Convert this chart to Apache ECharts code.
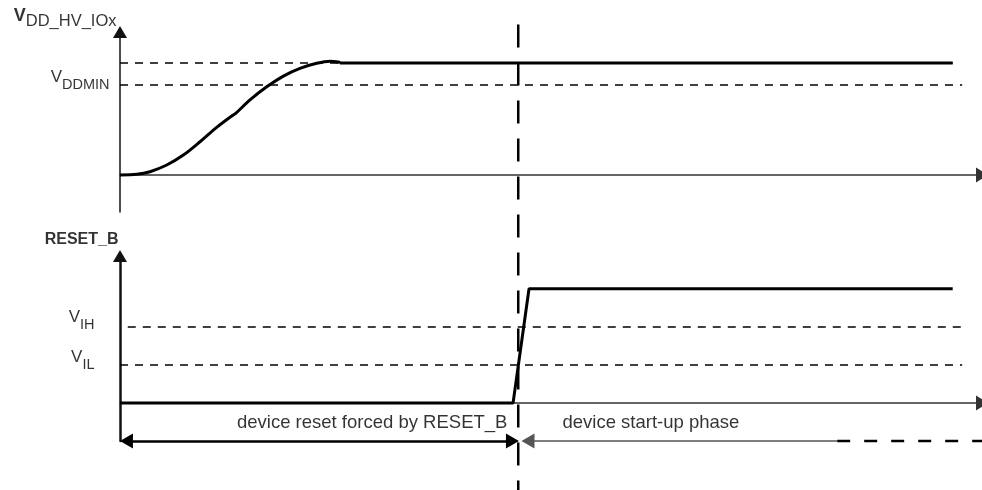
<!DOCTYPE html>
<html><head><meta charset="utf-8">
<script src="https://cdn.jsdelivr.net/npm/echarts@6/dist/echarts.min.js"></script>
<style>html,body{margin:0;padding:0;background:#fff}#c{width:982px;height:490px}</style>
</head><body><div id="c"></div>
<script>
// ---- data (time in arbitrary units, levels in arbitrary volts) ----
const vddTime  = [0, 0.194, 0.348, 0.542, 0.735, 0.928, 1.122, 1.296, 1.334, 1.508, 1.702, 1.895, 2.088, 2.282, 2.436, 2.533, 2.552];
const vddLevel = [0, 0.023, 0.111, 0.336, 0.671, 1.117, 1.60, 1.98, 2.05, 2.52, 2.96, 3.32, 3.58, 3.75, 3.82, 3.79, 3.76];
const vddHoldTime = [2.552, 9.66];
const resetTime  = [0, 4.56, 4.745, 9.66];
const resetLevel = [0, 0, 3.73, 3.73];
const vddHighLevel = 3.76;
const vddMinLevel = 3.02;
const vihLevel = 2.48;
const vilLevel = 1.24;
const releaseTime = 4.62;
const spanLevel = -1.24;
const highDashEnd = 9.66;
const levelDashEnd = 9.77;
const vihDashStart = 0.09;
const resetSpan = [0.075, 4.553];
const startupSpan = [4.733, 8.32];
const startupTailEnd = 10;
const textLevel = -0.64;
const resetTextEnd = 4.50;
const startupTextStart = 5.127;
const topLabelLevel = 5.25;
const resetLabelLevel = 5.34;
const labels = {
  vdd: ['V', 'DD_HV_IOx'],
  vddmin: ['V', 'DDMIN'],
  vih: ['V', 'IH'],
  vil: ['V', 'IL'],
  reset: 'RESET_B',
  resetPhase: 'device reset forced by RESET_B',
  startPhase: 'device start-up phase'
};

const FONT = "'Liberation Sans', Arial, Helvetica, sans-serif";
const zip = (a, b) => a.map((v, i) => [v, b[i]]);

function axisX(show, gi) {
  return {
    type: 'value', min: 0, max: 10, gridIndex: gi, show: show,
    axisLine: { show: true, onZero: true, symbol: ['none', 'triangle'], symbolSize: [15, 12],
      lineStyle: { color: '#333', width: 1.5 } },
    axisTick: { show: false }, axisLabel: { show: false }, splitLine: { show: false }
  };
}
function axisY(width, gi) {
  return {
    type: 'value', min: spanLevel, max: 4.8, gridIndex: gi,
    axisLine: { show: true, onZero: true, symbol: ['none', 'triangle'], symbolSize: [14, 12],
      lineStyle: { color: '#111', width: width } },
    axisTick: { show: false }, axisLabel: { show: false }, splitLine: { show: false }
  };
}
function line(xi, data, style, z, extra) {
  return Object.assign({ type: 'line', xAxisIndex: xi, yAxisIndex: xi, data: data, showSymbol: false, symbol: 'none',
    clip: false, silent: true, z: z || 2, lineStyle: style, animation: false }, extra || {});
}
function textSeries(xi, pt, pos, dist, fmt, extraLabel) {
  const label = { show: true, position: pos, distance: dist, formatter: fmt,
    color: '#000', fontFamily: FONT, fontSize: 18.5 };
  Object.assign(label, extraLabel || {});
  return { type: 'scatter', xAxisIndex: xi, yAxisIndex: xi, data: [pt], symbolSize: 1, clip: false, silent: true,
    itemStyle: { color: 'rgba(0,0,0,0)' }, label: label, animation: false };
}
function subRich(vSize, vWeight, sSize, shift) {
  return {
    v: { fontSize: vSize, fontWeight: vWeight, lineHeight: 16, padding: [0, 0, shift, 0], color: '#000', fontFamily: FONT },
    s: { fontSize: sSize, lineHeight: 16, padding: [shift, 0, 0, 0], color: '#000', fontFamily: FONT }
  };
}
const dashThin = { color: '#000', width: 1.5, type: [8, 7] };
const fmtSub = (p) => '{v|' + p[0] + '}{s|' + p[1] + '}';

const option = {
  animation: false,
  backgroundColor: '#fff',
  textStyle: { fontFamily: FONT },
  grid: [
    { left: 120, right: 0, top: 32, bottom: 278 },
    { left: 120, right: 0, top: 256, bottom: 49 },
    { left: 120, right: 0, top: 0, bottom: 0 }
  ],
  xAxis: [axisX(true, 0), axisX(true, 1), axisX(false, 2)],
  yAxis: [axisY(1.5, 0), axisY(2.5, 1), { type: 'value', min: 0, max: 1, gridIndex: 2, show: false }],
  series: [
    // top panel
    line(0, [[0, vddHighLevel], [highDashEnd, vddHighLevel]], dashThin, 1),
    line(0, [[0, vddMinLevel], [levelDashEnd, vddMinLevel]], dashThin, 1),
    line(0, zip(vddTime, vddLevel), { color: '#000', width: 3 }, 3, { smooth: 0.3 }),
    line(0, vddHoldTime.map(t => [t, vddHighLevel]), { color: '#000', width: 3 }, 3),
    // bottom panel
    line(1, [[vihDashStart, vihLevel], [levelDashEnd, vihLevel]], dashThin, 1),
    line(1, [[0, vilLevel], [levelDashEnd, vilLevel]], dashThin, 1),
    line(1, zip(resetTime, resetLevel), { color: '#000', width: 3 }, 3),
    line(1, [[startupSpan[1], spanLevel], [startupTailEnd, spanLevel]], { color: '#000', width: 2.5, type: [13, 14] }, 2),
    {
      type: 'line', xAxisIndex: 1, yAxisIndex: 1, data: [], silent: true, animation: false,
      markLine: {
        silent: true, animation: false, symbol: ['triangle', 'triangle'], symbolSize: [15, 13],
        label: { show: false }, lineStyle: { color: '#000', width: 2.5, type: 'solid' },
        data: [[{ coord: [resetSpan[0], spanLevel] }, { coord: [resetSpan[1], spanLevel] }]]
      }
    },
    {
      type: 'line', xAxisIndex: 1, yAxisIndex: 1, data: [], silent: true, animation: false,
      markLine: {
        silent: true, animation: false, symbol: ['triangle', 'none'], symbolSize: [15, 13],
        label: { show: false }, lineStyle: { color: '#555', width: 1.5, type: 'solid' },
        data: [[{ coord: [startupSpan[0], spanLevel] }, { coord: [startupSpan[1], spanLevel] }]]
      }
    },
    // overlay: reset release marker
    line(2, [[releaseTime, 0.95], [releaseTime, 0]], { color: '#000', width: 2.5, type: [23, 15] }, 4),
    // texts
    textSeries(0, [0, topLabelLevel], 'left', 3, fmtSub(labels.vdd), { rich: subRich(18, 'bold', 16.5, 5) }),
    textSeries(0, [0, vddMinLevel], 'left', 10, fmtSub(labels.vddmin), { rich: subRich(17, 'normal', 14.5, 8), offset: [0, -4] }),
    textSeries(1, [0, vihLevel], 'left', 25, fmtSub(labels.vih), { rich: subRich(17, 'normal', 14.5, 7), offset: [0, -6] }),
    textSeries(1, [0, vilLevel], 'left', 25, fmtSub(labels.vil), { rich: subRich(17, 'normal', 14.5, 7), offset: [0, -4] }),
    textSeries(1, [0, resetLabelLevel], 'left', 1, labels.reset, { fontWeight: 'bold', fontSize: 16 }),
    textSeries(1, [resetTextEnd, textLevel], 'left', 0, labels.resetPhase),
    textSeries(1, [startupTextStart, textLevel], 'right', 0, labels.startPhase)
  ]
};
const chart = echarts.init(document.getElementById('c'), null, { renderer: 'canvas' });
chart.setOption(option);
</script>
</body></html>
